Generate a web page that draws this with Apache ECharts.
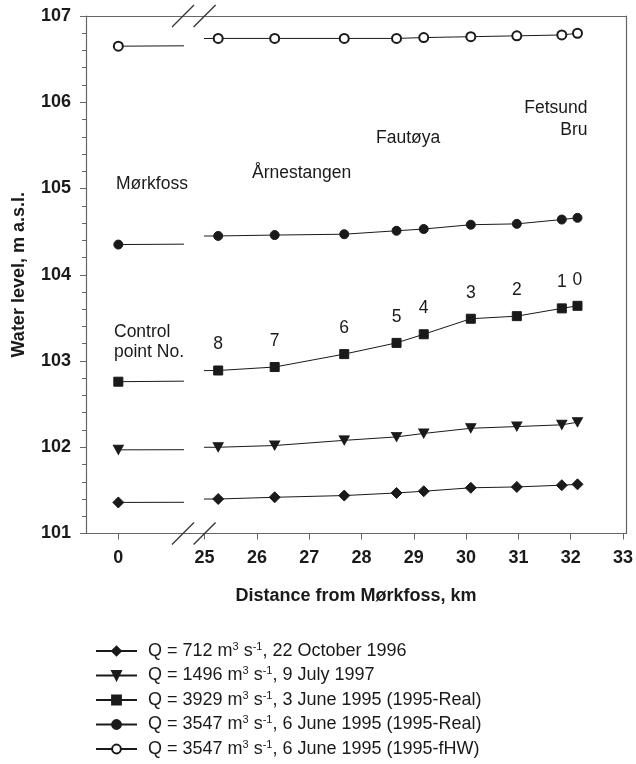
<!DOCTYPE html>
<html>
<head>
<meta charset="utf-8">
<script src="https://cdn.jsdelivr.net/npm/echarts@6/dist/echarts.min.js"></script>
<style>
  html, body { margin: 0; padding: 0; background: #fff; }
  #chart { width: 636px; height: 764px; }
</style>
</head>
<body>
<div id="chart"></div>
<script>
// distance from Mørkfoss, km (0 = Mørkfoss, then control points 8 ... 0)
const distance = [0, 25.26, 26.34, 27.67, 28.67, 29.19, 30.09, 30.97, 31.83, 32.13]
const controlPoints = ['', '8', '7', '6', '5', '4', '3', '2', '1', '0']

// water level, m a.s.l.
const level712 = [101.36, 101.40, 101.42, 101.44, 101.47, 101.49, 101.53, 101.54, 101.56, 101.57]
const level1496 = [101.97, 102.00, 102.02, 102.08, 102.12, 102.16, 102.22, 102.24, 102.26, 102.29]
const level3929 = [102.76, 102.89, 102.93, 103.08, 103.21, 103.31, 103.49, 103.52, 103.61, 103.64]
const level3547 = [104.35, 104.45, 104.46, 104.47, 104.51, 104.53, 104.58, 104.59, 104.64, 104.66]
const level3547fHW = [106.65, 106.74, 106.74, 106.74, 106.74, 106.75, 106.76, 106.77, 106.78, 106.80]

// legend texts
const flows = ['712', '1496', '3929', '3547', '3547']
const dates = ['22 October 1996', '9 July 1997', '3 June 1995 (1995-Real)', '6 June 1995 (1995-Real)', '6 June 1995 (1995-fHW)']

// axis ticks
const xTicksLeft = [0]
const xTicksRight = [25, 26, 27, 28, 29, 30, 31, 32, 33]
const yMin = 101
const yMax = 107

// layout (px)
const TOP = 16
const BOTTOM = 230.5
const FRAME_LEFT = 86
const FRAME_RIGHT = 10
const BREAK_A = 183    // left panel ends
const BREAK_B = 204.6  // right panel starts
const H = 764

const ink = '#1a1a1a'
const axisGray = '#666'
const font = '"Liberation Sans", Arial, Helvetica, sans-serif'

const names = flows.map((q, i) => 'Q = ' + q + ' m3 s-1, ' + dates[i])

const styles = [
  { symbol: 'diamond', symbolSize: 11 },
  { symbol: 'triangle', symbolSize: [10, 9], symbolRotate: 180 },
  { symbol: 'rect', symbolSize: 9 },
  { symbol: 'circle', symbolSize: 9 },
  { symbol: 'emptyCircle', symbolSize: 9 }
]
const levels = [level712, level1496, level3929, level3547, level3547fHW]

const series = []
levels.forEach((lv, i) => {
  const pts = distance.map((d, j) => [d, lv[j]])
  ;[1, 2].forEach((g) => {
    const s = {
      name: names[i],
      type: 'line',
      xAxisIndex: g + 1,
      yAxisIndex: g + 1,
      data: pts,
      symbol: styles[i].symbol,
      symbolSize: styles[i].symbolSize,
      symbolRotate: styles[i].symbolRotate || 0,
      showAllSymbol: true,
      clip: true,
      color: ink,
      itemStyle: { color: ink, borderColor: ink, borderWidth: 1 },
      lineStyle: { color: ink, width: 1 },
      emphasis: { disabled: true },
      z: 5
    }
    if (i === 2 && g === 2) {
      // control point numbers above the 3929 series
      s.label = {
        show: true,
        position: 'top',
        distance: 12,
        formatter: (p) => controlPoints[p.dataIndex],
        fontSize: 17.5,
        fontFamily: font,
        color: ink
      }
    }
    series.push(s)
  })
})

const frameAxis = {
  axisLine: { show: true, onZero: false, lineStyle: { color: axisGray, width: 1.2 } },
  axisTick: { show: false },
  axisLabel: { show: false },
  splitLine: { show: false }
}

const option = {
  animation: false,
  backgroundColor: '#fff',
  textStyle: { fontFamily: font },
  grid: [
    { left: FRAME_LEFT, right: FRAME_RIGHT, top: TOP, bottom: BOTTOM },
    { left: FRAME_LEFT, width: BREAK_A - FRAME_LEFT, top: TOP, bottom: BOTTOM },
    { left: BREAK_B, right: FRAME_RIGHT, top: TOP, bottom: BOTTOM }
  ],
  xAxis: [
    {
      gridIndex: 0, type: 'value', min: 0, max: 1, position: 'bottom', ...frameAxis,
      name: 'Distance from Mørkfoss, km',
      nameLocation: 'middle',
      nameGap: 54,
      nameTextStyle: { fontSize: 18, fontWeight: 'bold', color: ink, fontFamily: font }
    },
    { gridIndex: 0, type: 'value', min: 0, max: 1, position: 'top', ...frameAxis },
    {
      gridIndex: 1, type: 'value', min: -0.6, max: 1.2,
      axisLine: { show: false },
      axisTick: { show: true, customValues: xTicksLeft, length: 6, lineStyle: { color: axisGray } },
      axisLabel: { customValues: xTicksLeft, fontSize: 18, fontWeight: 'bold', color: ink, margin: 16, fontFamily: font },
      splitLine: { show: false }
    },
    {
      gridIndex: 2, type: 'value', min: 25, max: 33, interval: 1,
      axisLine: { show: false },
      axisTick: { show: true, customValues: xTicksRight, length: 6, lineStyle: { color: axisGray } },
      axisLabel: { customValues: xTicksRight, fontSize: 18, fontWeight: 'bold', color: ink, margin: 16, fontFamily: font },
      splitLine: { show: false }
    }
  ],
  yAxis: [
    {
      gridIndex: 0, type: 'value', min: yMin, max: yMax, interval: 1, position: 'left',
      axisLine: { show: true, onZero: false, lineStyle: { color: axisGray, width: 1.2 } },
      axisTick: { show: true, length: 6, lineStyle: { color: axisGray } },
      minorTick: { show: true, splitNumber: 5, length: 4, lineStyle: { color: axisGray } },
      axisLabel: { fontSize: 18, fontWeight: 'bold', color: ink, margin: 15, fontFamily: font },
      splitLine: { show: false },
      name: 'Water level, m a.s.l.',
      nameLocation: 'middle',
      nameGap: 58,
      nameTextStyle: { fontSize: 18, fontWeight: 'bold', color: ink, fontFamily: font }
    },
    { gridIndex: 0, type: 'value', min: yMin, max: yMax, position: 'right', ...frameAxis },
    { gridIndex: 1, type: 'value', min: yMin, max: yMax, show: false },
    { gridIndex: 2, type: 'value', min: yMin, max: yMax, show: false }
  ],
  legend: {
    orient: 'vertical',
    left: 95,
    top: 641,
    height: 123,
    padding: 0,
    itemWidth: 41,
    itemHeight: 11,
    itemGap: 4.5,
    data: names,
    selectedMode: false,
    formatter: (name) => {
      const i = names.indexOf(name)
      return '{t|Q = ' + flows[i] + ' m}{s|3}{t| s}{s|-1}{t|, ' + dates[i] + '}'
    },
    textStyle: {
      color: ink,
      fontFamily: font,
      fontSize: 18,
      lineHeight: 20,
      padding: [0, 0, 0, 6],
      rich: {
        t: { fontSize: 18, lineHeight: 20, color: ink, fontFamily: font },
        s: { fontSize: 11, lineHeight: 11, verticalAlign: 'top', color: ink, fontFamily: font }
      }
    }
  },
  series: series,
  graphic: []
}

// axis break marks (top and bottom frame)
;[BREAK_A, BREAK_B].forEach((cx) => {
  ;[TOP, H - BOTTOM].forEach((cy) => {
    option.graphic.push({
      type: 'line',
      shape: { x1: cx - 11, y1: cy + 11, x2: cx + 11, y2: cy - 11 },
      style: { stroke: '#333', lineWidth: 1.3 },
      z: 10
    })
  })
})

// place-name annotations
const notes = [
  { text: 'Mørkfoss', x: 116, y: 184.5, align: 'left' },
  { text: 'Årnestangen', x: 252, y: 173, align: 'left' },
  { text: 'Fautøya', x: 376, y: 138, align: 'left' },
  { text: 'Fetsund\nBru', x: 587.5, y: 119.2, align: 'right', lh: 22 },
  { text: 'Control\npoint No.', x: 114, y: 342, align: 'left', lh: 20 }
]
notes.forEach((n) => {
  option.graphic.push({
    type: 'text',
    x: n.x,
    y: n.y,
    z: 10,
    style: {
      text: n.text,
      fill: ink,
      fontSize: 17.5,
      fontFamily: font,
      lineHeight: n.lh || 20,
      textAlign: n.align,
      align: n.align,
      textVerticalAlign: 'middle',
      verticalAlign: 'middle'
    }
  })
})

const myChart = echarts.init(document.getElementById('chart'), null, { renderer: 'canvas' })
myChart.setOption(option)
window.addEventListener('resize', function () {
  myChart.resize()
})
</script>
</body>
</html>
